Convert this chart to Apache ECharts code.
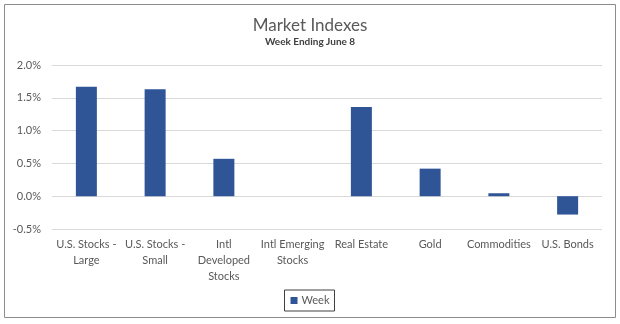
<!DOCTYPE html>
<html><head><meta charset="utf-8">
<script src="https://cdn.jsdelivr.net/npm/echarts@6/dist/echarts.min.js"></script>
<style>html,body{margin:0;padding:0;background:#fff}#c{width:620px;height:324px}</style>
</head><body><div id="c"></div>
<script>
const categories = ["U.S. Stocks -\nLarge", "U.S. Stocks -\nSmall", "Intl\nDeveloped\nStocks", "Intl Emerging\nStocks", "Real Estate", "Gold", "Commodities", "U.S. Bonds"];
const weekValues = [1.67, 1.63, 0.57, 0.0, 1.36, 0.42, 0.045, -0.28];
const seriesName = "Week";
const titleText = "Market Indexes";
const subtitleText = "Week Ending June 8";

const chart = echarts.init(document.getElementById('c'));
const font = 'Lato, "Open Sans", sans-serif';
chart.setOption({
  animation: false,
  textStyle: {fontFamily: font},
  graphic: [{type: 'rect', shape: {x: 4.5, y: 4.5, width: 611, height: 313}, style: {fill: 'none', stroke: '#8c8c8c', lineWidth: 1}, silent: true}],
  title: {
    text: titleText, subtext: subtitleText, left: 'center', top: 12, itemGap: 3,
    textStyle: {fontFamily: font, fontSize: 17, fontWeight: 'normal', color: '#595959'},
    subtextStyle: {fontFamily: font, fontSize: 10, fontWeight: 'bold', color: '#404040'}
  },
  legend: {
    data: [seriesName], bottom: 13, left: 'center', icon: 'rect', itemWidth: 7, itemHeight: 7, itemGap: 4,
    borderColor: '#404040', borderWidth: 1, padding: [5, 5, 5, 6],
    textStyle: {fontFamily: font, fontSize: 11, color: '#595959', padding: [0, 0, 0, -1]}
  },
  grid: {left: 52, right: 18, top: 65, bottom: 95},
  xAxis: {
    type: 'category', data: categories,
    axisLine: {show: false, onZero: false}, axisTick: {show: false},
    axisLabel: {interval: 0, color: '#595959', fontSize: 11, lineHeight: 16, margin: 7, fontFamily: font}
  },
  yAxis: {
    type: 'value', min: -0.5, max: 2.0, interval: 0.5,
    axisLine: {show: false}, axisTick: {show: false},
    splitLine: {lineStyle: {color: '#d9d9d9', width: 1}},
    axisLabel: {formatter: v => v.toFixed(1) + '%', color: '#595959', fontSize: 11, margin: 11, fontFamily: font}
  },
  series: [{name: seriesName, type: 'bar', data: weekValues, barWidth: 21, itemStyle: {color: '#2F5597'}}]
});
</script></body></html>
